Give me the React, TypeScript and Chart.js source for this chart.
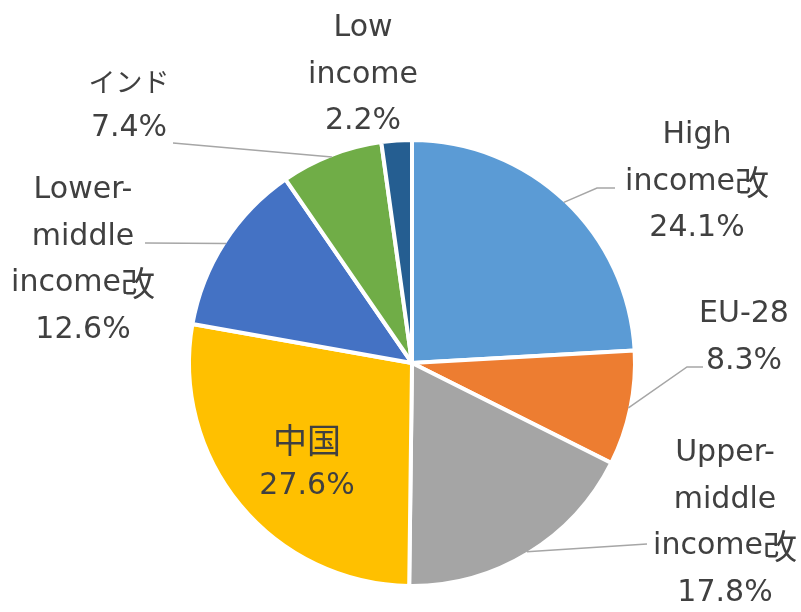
import React, { useEffect, useRef } from "react";
import { Chart, registerables } from "chart.js";

Chart.register(...registerables);

const categories = [
  "High income改",
  "EU-28",
  "Upper-middle income改",
  "中国",
  "Lower-middle income改",
  "インド",
  "Low income",
];
const shares = [24.1, 8.3, 17.8, 27.6, 12.6, 7.4, 2.2];
const labelLines = [
  ["High", "income改"],
  ["EU-28"],
  ["Upper-", "middle", "income改"],
  ["中国"],
  ["Lower-", "middle", "income改"],
  ["インド"],
  ["Low", "income"],
];
const sliceColors = ["#5B9BD5", "#ED7D31", "#A5A5A5", "#FFC000", "#4472C4", "#70AD47", "#255E91"];

// label placement relative to pie centre (pixels): block centre and leader path after the arc edge
const labelLayout: { dx: number; dy: number; leader: number[][] }[] = [
  { dx: 285, dy: -181, leader: [[185, -175], [203, -175]] },
  { dx: 332, dy: -25.5, leader: [[275, 4], [291, 4]] },
  { dx: 313, dy: 160, leader: [[235, 181]] },
  { dx: -105, dy: 100, leader: [] },
  { dx: -329, dy: -103, leader: [[-267, -120]] },
  { dx: -283, dy: -258, leader: [[-239, -220]] },
  { dx: -49, dy: -288, leader: [] },
];

const LATIN_FONT = "30px 'DejaVu Sans', 'Noto Sans CJK JP', sans-serif";
const KANJI_FONT = "34px 'Noto Sans CJK JP', sans-serif";
const KANA_FONT = "27px 'Noto Sans CJK JP', sans-serif";
const LINE_H = 46.5;

function fontFor(ch: string) {
  const c = ch.charCodeAt(0);
  if (c >= 0x4e00 && c <= 0x9fff) return KANJI_FONT;
  if (c >= 0x3040 && c <= 0x30ff) return KANA_FONT;
  return LATIN_FONT;
}

function runsOf(text: string) {
  const runs: { text: string; font: string }[] = [];
  for (const ch of text) {
    const f = fontFor(ch);
    const last = runs[runs.length - 1];
    if (last && last.font === f) last.text += ch;
    else runs.push({ text: ch, font: f });
  }
  return runs;
}

function drawMixed(ctx: CanvasRenderingContext2D, text: string, cx: number, cy: number) {
  const runs = runsOf(text);
  let total = 0;
  const widths = runs.map((r) => {
    ctx.font = r.font;
    const w = ctx.measureText(r.text).width;
    total += w;
    return w;
  });
  let x = cx - total / 2;
  ctx.textAlign = "left";
  runs.forEach((r, i) => {
    ctx.font = r.font;
    ctx.fillText(r.text, x, cy);
    x += widths[i];
  });
}

const labelPlugin = {
  id: "pieLabels",
  afterDatasetsDraw(chart: any) {
    const ctx = chart.ctx;
    const meta = chart.getDatasetMeta(0);
    const values = chart.data.datasets[0].data as number[];
    ctx.save();
    meta.data.forEach((arc: any, i: number) => {
      const p = arc.getProps(["x", "y", "startAngle", "endAngle", "outerRadius"], true);
      const mid = (p.startAngle + p.endAngle) / 2;
      const r = p.outerRadius - 2;
      const lay = labelLayout[i];
      if (lay.leader.length) {
        ctx.beginPath();
        ctx.strokeStyle = "#A6A6A6";
        ctx.lineWidth = 1.5;
        ctx.moveTo(p.x + Math.cos(mid) * r, p.y + Math.sin(mid) * r);
        lay.leader.forEach((pt) => ctx.lineTo(p.x + pt[0], p.y + pt[1]));
        ctx.stroke();
      }
      const lines = [...labelLines[i], `${values[i].toFixed(1)}%`];
      ctx.fillStyle = "#404040";
      ctx.textBaseline = "middle";
      const cx = p.x + lay.dx;
      const top = p.y + lay.dy - ((lines.length - 1) * LINE_H) / 2;
      lines.forEach((t, k) => drawMixed(ctx, t, cx, top + k * LINE_H));
    });
    ctx.restore();
  },
};

export default function App() {
  const ref = useRef<HTMLCanvasElement | null>(null);
  useEffect(() => {
    if (!ref.current) return;
    const chart = new Chart(ref.current, {
      type: "pie",
      data: {
        labels: categories,
        datasets: [
          {
            data: shares,
            backgroundColor: sliceColors,
            borderColor: "#ffffff",
            borderWidth: 4,
          },
        ],
      },
      options: {
        responsive: false,
        animation: false,
        layout: { padding: { left: 187, right: 164, top: 138, bottom: 24 } },
        plugins: { legend: { display: false }, tooltip: { enabled: false } },
      },
      plugins: [labelPlugin],
    });
    return () => chart.destroy();
  }, []);
  return (
    <div style={{ position: "absolute", left: 0, top: 0, width: 801, height: 612, background: "#fff" }}>
      <canvas ref={ref} width={801} height={612} style={{ display: "block" }} />
    </div>
  );
}
